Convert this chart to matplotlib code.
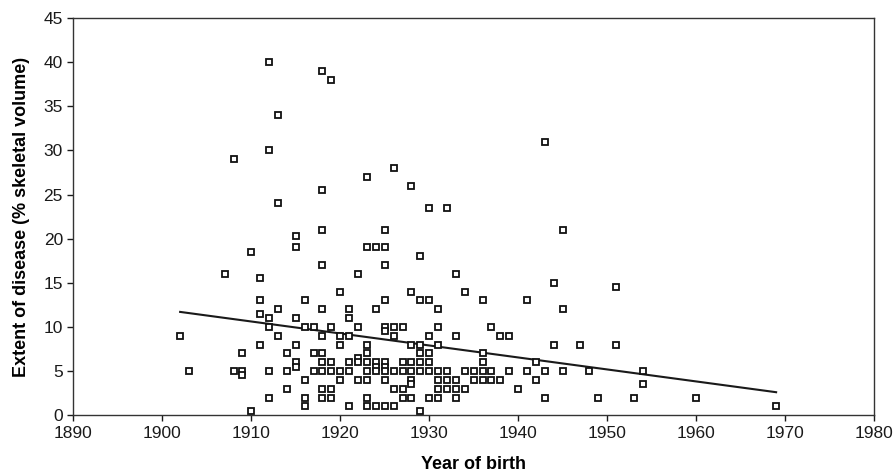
import matplotlib
matplotlib.use("Agg")
import matplotlib.pyplot as plt
import numpy as np

# (year of birth, extent of disease %)
birth_years = [
    1902, 1903, 1907, 1908, 1908,
    1909, 1909, 1909,
    1910, 1910,
    1911, 1911, 1911, 1911,
    1912, 1912, 1912, 1912, 1912, 1912,
    1913, 1913, 1913, 1913,
    1914, 1914, 1914,
    1915, 1915, 1915, 1915, 1915, 1915,
    1916, 1916, 1916, 1916, 1916,
    1917, 1917, 1917,
    1918, 1918, 1918, 1918, 1918, 1918, 1918, 1918, 1918, 1918, 1918,
    1919, 1919, 1919, 1919, 1919, 1919,
    1920, 1920, 1920, 1920, 1920,
    1921, 1921, 1921, 1921, 1921, 1921,
    1922, 1922, 1922, 1922, 1922,
    1923, 1923, 1923, 1923, 1923, 1923, 1923, 1923, 1923,
    1924, 1924, 1924, 1924, 1924, 1924,
    1925, 1925, 1925, 1925, 1925, 1925, 1925, 1925, 1925, 1925, 1925,
    1926, 1926, 1926, 1926, 1926, 1926,
    1927, 1927, 1927, 1927, 1927,
    1928, 1928, 1928, 1928, 1928, 1928, 1928, 1928,
    1929, 1929, 1929, 1929, 1929, 1929, 1929,
    1930, 1930, 1930, 1930, 1930, 1930, 1930,
    1931, 1931, 1931, 1931, 1931, 1931, 1931,
    1932, 1932, 1932, 1932,
    1933, 1933, 1933, 1933, 1933,
    1934, 1934, 1934,
    1935, 1935,
    1936, 1936, 1936, 1936, 1936,
    1937, 1937, 1937,
    1938, 1938,
    1939, 1939,
    1940,
    1941, 1941,
    1942, 1942,
    1943, 1943, 1943,
    1944, 1944,
    1945, 1945, 1945,
    1947, 1948, 1949,
    1951, 1951,
    1953,
    1954, 1954,
    1960, 1969,
]
disease_extent = [
    9, 5, 16, 29, 5,
    7, 5, 4.5,
    18.5, 0.5,
    15.5, 13, 11.5, 8,
    40, 30, 11, 10, 5, 2,
    34, 24, 12, 9,
    7, 5, 3,
    20.3, 19, 11, 8, 6, 5.5,
    13, 10, 4, 2, 1,
    10, 7, 5,
    39, 25.5, 21, 17, 12, 9, 7, 6, 5, 3, 2,
    38, 10, 6, 5, 3, 2,
    14, 9, 8, 5, 4,
    12, 11, 9, 6, 5, 1,
    16, 10, 6.5, 6, 4,
    27, 19, 8, 7, 6, 5, 4, 2, 1,
    19, 12, 6, 5.5, 5, 1,
    21, 19, 17, 13, 10, 9.5, 6, 5.5, 5, 4, 1,
    28, 10, 9, 5, 3, 1,
    10, 6, 5, 3, 2,
    26, 14, 8, 6, 5, 4, 3.5, 2,
    18, 13, 8, 7, 6, 5, 0.5,
    23.5, 13, 9, 7, 6, 5, 2,
    12, 10, 8, 5, 4, 3, 2,
    23.5, 5, 4, 3,
    16, 9, 4, 3, 2,
    14, 5, 3,
    5, 4,
    13, 7, 6, 5, 4,
    10, 5, 4,
    9, 4,
    9, 5,
    3,
    13, 5,
    6, 4,
    31, 5, 2,
    15, 8,
    21, 12, 5,
    8, 5, 2,
    14.5, 8,
    2,
    5, 3.5,
    2, 1,
]

# fitted trend line end points
trend_years = [1902, 1969]
trend_values = [11.7, 2.6]

x_ticks = list(range(1890, 1981, 10))
y_ticks = list(range(0, 46, 5))

plt.rcParams['font.family'] = ['Liberation Sans', 'DejaVu Sans']

fig = plt.figure(figsize=(8.95, 4.75), dpi=100)
ax = fig.add_axes([0.082, 0.126, 0.8945, 0.836])

ax.plot(birth_years, disease_extent, linestyle='none', marker='s',
        markersize=4.8, markerfacecolor='white', markeredgecolor='#111111',
        markeredgewidth=1.3, zorder=3)
ax.plot(trend_years, trend_values, color='#1a1a1a', linewidth=1.5, zorder=2)

ax.set_xlim(1890, 1980)
ax.set_ylim(0, 45)
ax.set_xticks(x_ticks)
ax.set_yticks(y_ticks)
ax.tick_params(axis='both', labelsize=12.5, direction='out', length=4,
               width=1, colors='#1a1a1a')
for s in ax.spines.values():
    s.set_color('#333333')
    s.set_linewidth(1.0)

ax.set_xlabel('Year of birth', fontsize=13, fontweight='bold', labelpad=11)
ax.set_ylabel('Extent of disease (% skeletal volume)', fontsize=13,
              fontweight='bold', labelpad=10)

fig.savefig('out.png', dpi=100)
